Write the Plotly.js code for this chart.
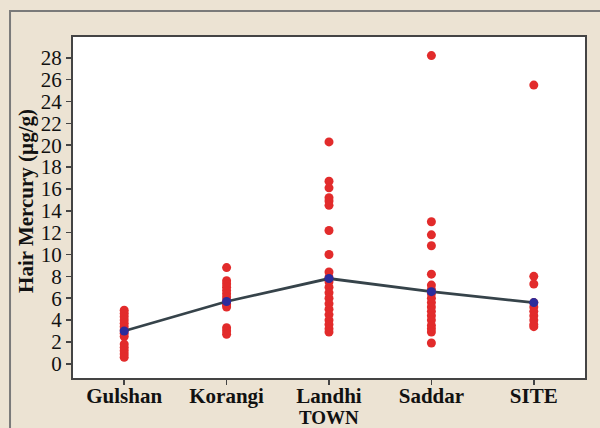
<!DOCTYPE html>
<html>
<head>
<meta charset="utf-8">
<script src="https://cdn.plot.ly/plotly-3.0.1.min.js"></script>
<style>html,body{margin:0;padding:0;background:#ece3d3;}</style>
</head>
<body>
<div id="chart" style="width:600px;height:428px;"></div>
<script>
const towns = ["Gulshan", "Korangi", "Landhi", "Saddar", "SITE"];
const gulshan = [4.9, 4.6, 4.3, 4.0, 3.7, 3.4, 3.1, 2.8, 2.5, 1.8, 1.5, 1.2, 0.9, 0.6];
const korangi = [8.8, 7.6, 7.3, 7.0, 6.7, 6.4, 6.1, 5.8, 5.5, 5.2, 5.4, 3.3, 3.0, 2.7];
const landhi = [20.3, 16.7, 16.1, 15.2, 14.9, 14.5, 12.2, 10.0, 8.4, 7.9, 7.5, 7.0, 6.5, 6.0, 5.5, 5.0, 4.5, 4.0, 3.6, 3.2, 2.9];
const saddar = [28.2, 13.0, 11.8, 10.8, 8.2, 7.2, 6.8, 6.4, 6.0, 5.6, 5.2, 4.8, 4.4, 4.0, 3.5, 3.2, 2.9, 1.9];
const site = [25.5, 8.0, 7.3, 5.6, 5.2, 4.8, 4.4, 4.0, 3.6, 3.4];
const means = [3.0, 5.7, 7.8, 6.6, 5.6];
const yTicks = [0, 2, 4, 6, 8, 10, 12, 14, 16, 18, 20, 22, 24, 26, 28];
const xTitle = "TOWN";
const yTitle = "Hair Mercury (µg/g)";

const groups = [gulshan, korangi, landhi, saddar, site];
const xs = [], ys = [];
groups.forEach((g, i) => g.forEach(v => { xs.push(towns[i]); ys.push(v); }));

const traces = [
  {
    x: xs, y: ys, type: "scatter", mode: "markers",
    marker: {color: "#e22b2b", size: 9, line: {width: 0}},
    hoverinfo: "x+y"
  },
  {
    x: towns, y: means, type: "scatter", mode: "lines+markers",
    line: {color: "#36434a", width: 2.8},
    marker: {color: "#2c2c9c", size: 9}
  }
];

const titleFont = {size: 21, family: "Liberation Serif, serif", color: "#111"};

const layout = {
  width: 600, height: 428,
  paper_bgcolor: "#ece3d3",
  plot_bgcolor: "#ffffff",
  margin: {l: 73, r: 15, t: 37, b: 50},
  showlegend: false,
  font: {family: "Liberation Serif, Times New Roman, serif", color: "#111"},
  xaxis: {
    type: "category",
    categoryarray: towns,
    range: [-0.5, 4.5],
    showgrid: false, zeroline: false,
    showline: true, linecolor: "#444", linewidth: 2, mirror: true,
    ticks: "outside", ticklen: 5, tickwidth: 1.5, tickcolor: "#444",
    ticklabelstandoff: -7,
    tickfont: {size: 21, family: "Liberation Serif, serif", weight: "bold", color: "#111"}
  },
  yaxis: {
    range: [-1.3, 29.9],
    tickvals: yTicks,
    showgrid: false, zeroline: false,
    showline: true, linecolor: "#444", linewidth: 2, mirror: true,
    ticks: "outside", ticklen: 5, tickwidth: 1.5, tickcolor: "#444",
    tickfont: {size: 21, family: "Liberation Serif, serif", color: "#111"}
  },
  annotations: [
    {text: "<b>" + xTitle + "</b>", xref: "paper", yref: "paper",
     x: 0.5, y: -0.1144, xanchor: "center", yanchor: "middle", borderpad: 0,
     showarrow: false, font: {size: 19, family: "Liberation Serif, serif", color: "#111"}},
    {text: "<b>" + yTitle + "</b>", xref: "paper", yref: "paper",
     x: -0.092, y: 0.519, xanchor: "center", yanchor: "middle",
     textangle: -90, showarrow: false, font: titleFont}
  ],
  shapes: [
    {type: "rect", xref: "paper", yref: "paper",
     x0: -0.123, x1: 1.2, y0: -0.3, y1: 1.076,
     line: {color: "#7a7a7a", width: 2}, fillcolor: "rgba(0,0,0,0)", layer: "below"}
  ]
};

Plotly.newPlot("chart", traces, layout, {displayModeBar: false, staticPlot: true});
</script>
</body>
</html>
